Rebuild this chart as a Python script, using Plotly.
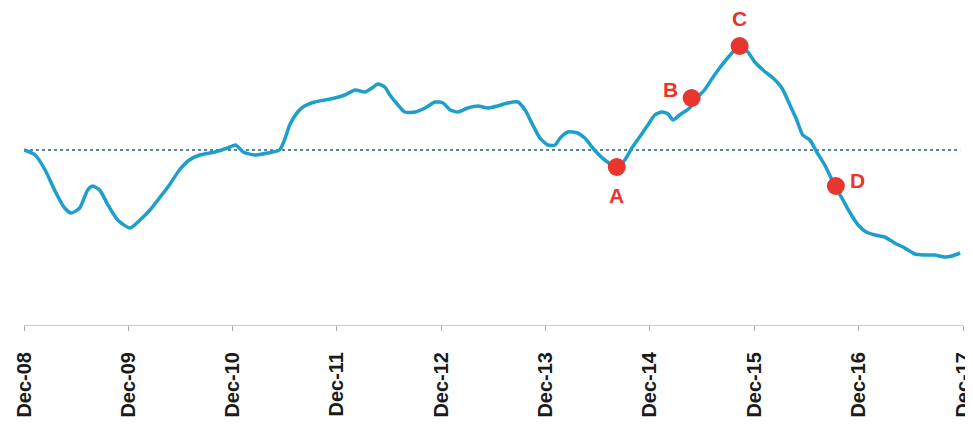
import plotly.graph_objects as go

# Series (relative index, dotted reference line at 0)
dates = [
    "2008-12-01", "2009-01-09", "2009-02-13", "2009-03-18", "2009-04-22", "2009-05-16",
    "2009-06-14", "2009-07-12", "2009-07-29", "2009-08-23", "2009-09-21", "2009-10-25",
    "2009-12-07", "2010-01-11", "2010-02-15", "2010-03-20", "2010-04-24", "2010-05-29",
    "2010-07-03", "2010-08-08", "2010-09-30", "2010-11-14", "2010-12-12", "2011-01-07",
    "2011-02-17", "2011-04-03", "2011-05-14", "2011-06-01", "2011-06-19", "2011-07-17",
    "2011-08-10", "2011-09-15", "2011-10-19", "2011-11-24", "2011-12-29", "2012-02-03",
    "2012-03-08", "2012-04-02", "2012-04-23", "2012-05-17", "2012-06-04", "2012-07-02",
    "2012-07-26", "2012-08-31", "2012-10-05", "2012-11-09", "2012-12-07", "2013-01-01",
    "2013-01-29", "2013-03-03", "2013-04-08", "2013-05-12", "2013-06-16", "2013-07-21",
    "2013-08-26", "2013-09-20", "2013-10-17", "2013-11-11", "2013-12-09", "2014-01-03",
    "2014-01-21", "2014-02-17", "2014-03-23", "2014-04-17", "2014-05-21", "2014-06-26",
    "2014-08-07", "2014-09-04", "2014-09-29", "2014-10-26", "2014-11-24", "2014-12-18",
    "2015-01-12", "2015-02-03", "2015-02-20", "2015-03-15", "2015-04-19", "2015-05-13",
    "2015-06-10", "2015-07-08", "2015-08-02", "2015-08-30", "2015-09-24", "2015-10-11",
    "2015-11-09", "2015-12-03", "2016-01-01", "2016-02-05", "2016-03-07", "2016-04-04",
    "2016-04-28", "2016-05-19", "2016-06-13", "2016-07-07", "2016-08-04", "2016-09-09",
    "2016-10-03", "2016-11-01", "2016-11-29", "2016-12-27", "2017-01-28", "2017-03-02",
    "2017-04-06", "2017-05-11", "2017-06-15", "2017-07-20", "2017-08-24", "2017-09-29",
    "2017-10-23", "2017-11-21",
]
values = [
    0.0, -0.5, -2.0, -4.0, -5.8, -6.3,
    -5.8, -4.0, -3.6, -4.0, -5.5, -7.0,
    -7.8, -7.0, -6.0, -4.8, -3.5, -2.0,
    -1.0, -0.5, -0.2, 0.2, 0.5, -0.2,
    -0.5, -0.3, 0.0, 1.0, 2.5, 3.8,
    4.4, 4.8, 5.0, 5.2, 5.5, 6.0,
    5.8, 6.2, 6.6, 6.3, 5.5, 4.5,
    3.8, 3.8, 4.2, 4.8, 4.7, 4.0,
    3.8, 4.2, 4.4, 4.2, 4.4, 4.7,
    4.8, 4.0, 2.5, 1.2, 0.5, 0.5,
    1.2, 1.8, 1.7, 1.2, 0.0, -1.0,
    -1.7, -1.0, 0.2, 1.3, 2.5, 3.5,
    3.8, 3.6, 3.0, 3.5, 4.2, 5.2,
    6.0, 7.2, 8.2, 9.2, 10.0, 10.4,
    9.8, 8.8, 8.0, 7.2, 6.2, 4.5,
    3.0, 1.5, 1.0, -0.2, -1.5, -3.6,
    -4.8, -6.3, -7.5, -8.2, -8.5, -8.7,
    -9.3, -9.8, -10.4, -10.5, -10.5, -10.7,
    -10.6, -10.3,
]
baseline = 0.0

# Highlighted points
point_labels = ["A", "B", "C", "D"]
point_dates = ["2014-08-07", "2015-04-26", "2015-10-11", "2016-09-12"]
point_values = [-1.7, 5.2, 10.4, -3.6]
label_shift_x = [0, -21, 0, 22]
label_shift_y = [-28, 9, 28, 6]

tick_dates = ["2008-12-01", "2009-12-01", "2010-12-01", "2011-12-01", "2012-12-01",
              "2013-12-01", "2014-12-01", "2015-12-01", "2016-12-01", "2017-12-01"]
tick_text = ["Dec-08", "Dec-09", "Dec-10", "Dec-11", "Dec-12",
             "Dec-13", "Dec-14", "Dec-15", "Dec-16", "Dec-17"]

RED = "#e8352e"

fig = go.Figure()
fig.add_trace(go.Scatter(
    x=[dates[0], dates[-1]], y=[baseline, baseline], mode="lines",
    line=dict(color="#1e5f78", width=1.6, dash="dot"), hoverinfo="skip",
))
fig.add_trace(go.Scatter(
    x=dates, y=values, mode="lines",
    line=dict(color="#1c9fcb", width=3.5, shape="spline", smoothing=0.6),
))
fig.add_trace(go.Scatter(
    x=point_dates, y=point_values, mode="markers",
    marker=dict(color=RED, size=18, line=dict(width=0)),
))
for lab, d, v, sx, sy in zip(point_labels, point_dates, point_values, label_shift_x, label_shift_y):
    fig.add_annotation(x=d, y=v, text=f"<b>{lab}</b>", showarrow=False,
                       xshift=sx, yshift=sy,
                       font=dict(family="Liberation Sans, Arial", size=21, color=RED))

fig.update_layout(
    width=965, height=418,
    margin=dict(l=16, r=10, t=2, b=101, autoexpand=False),
    paper_bgcolor="white", plot_bgcolor="white",
    showlegend=False,
    xaxis=dict(
        type="date", range=["2008-12-01", "2017-12-01"], automargin=False,
        tickmode="array", tickvals=tick_dates, ticktext=[f"<b>{t}</b>" for t in tick_text],
        tickangle=-90, ticks="outside", ticklen=5, tickcolor="#aaaaaa",
        showline=True, linecolor="#cccccc", linewidth=1,
        showgrid=False, zeroline=False,
        tickfont=dict(family="Liberation Sans, Arial", size=20, color="#1a1a1a"),
        ticklabelstandoff=13, ticklabeloverflow="allow",
    ),
    yaxis=dict(range=[-17.5, 14], visible=False, showgrid=False, zeroline=False,
               automargin=False),
)

fig.write_html("out.html")
